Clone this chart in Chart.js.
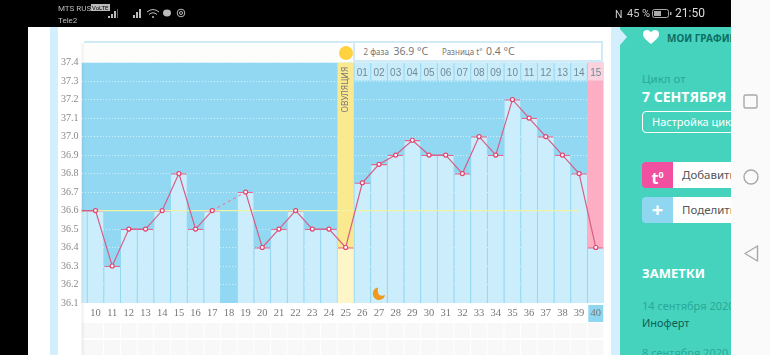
<!DOCTYPE html>
<html>
<head>
<meta charset="utf-8">
<title>График температуры</title>
<script src="https://cdn.jsdelivr.net/npm/chart.js@4/dist/chart.umd.min.js"></script>
<style>
    html, body { margin: 0; padding: 0; background: #000; }
    body { position: relative; width: 770px; height: 355px; overflow: hidden; font-family: "Noto Sans", sans-serif; }
    div, span, svg { position: absolute; white-space: nowrap; }
    #page { left: 28px; top: 27px; width: 703px; height: 328px; background: #fff; overflow: hidden; }
    #nav { left: 731px; top: 0; width: 39px; height: 355px; background: #fafafa; }
    #strip-left { left: 50px; top: 27px; width: 8px; height: 328px; background: #d2effb; }
    #strip-right { left: 611px; top: 27px; width: 9px; height: 328px; background: #d2effb; }
    #side { left: 620px; top: 27px; width: 111px; height: 328px; background: #45d3bd; overflow: hidden; }
    #side div { left: 22px; }
    #head-left { left: 84px; top: 41px; width: 253px; height: 19px; background: #fdfefc; border-top: 2px solid #d0ebf5; }
    #head-ovu { left: 337px; top: 41px; width: 16px; height: 19px; background: #fff; border-top: 2px solid #d0ebf5; }
    #head-right { left: 353px; top: 41px; width: 246px; height: 17px; background: #fff; border: 2px solid #d0ebf5; color: #777; }
    #sun { left: 338.5px; top: 46px; width: 14px; height: 14px; border-radius: 7px; background: #ffd23f; }
    #unit { left: 65px; top: 37px; font-size: 10.5px; color: #888; }
    canvas { position: absolute; left: 0; top: 0; }
    .status { color: #bbb; font-size: 8px; font-family: Roboto, sans-serif; }
    .btn-icon { left: 22px; width: 31px; height: 26px; border-radius: 4px 0 0 4px; color: #fff; text-align: center; font-weight: 700; }
    .btn-text { width: 90px; height: 26px; line-height: 25px; background: #fff; color: #555; font-size: 11.5px; padding-left: 9px; }
</style>
</head>
<body>
<div id="page"></div>
<div id="strip-left"></div>
<div id="strip-right"></div>
<div id="head-left"></div>
<div id="head-ovu"></div>
<div id="head-right">
    <span style="left:8.5px;top:3px;font-size:8px">2 фаза</span>
    <span style="left:38.5px;top:1px;font-size:10.5px">36.9 °C</span>
    <span style="left:87px;top:3px;font-size:8px">Разница t°</span>
    <span style="left:131px;top:1px;font-size:10.5px">0.4 °C</span>
</div>
<div id="sun"></div>
<div id="unit">C°</div>

<canvas id="tempChart" width="770" height="355"></canvas>

<svg style="left:620px;top:29px;z-index:2" width="8" height="17"><path d="M0 0 L7 8 L0 16 Z" fill="#d2effb"/></svg>
<div id="side">
    <svg style="left:22px;top:2px" width="18" height="16" viewBox="0 0 18 16"><path d="M9 15 C3 10 1 8 1 5 C1 2 3 1 5 1 C7 1 8 2 9 3.5 C10 2 11 1 13 1 C15 1 17 2 17 5 C17 8 15 10 9 15Z" fill="#fff"/></svg>
    <div style="left:47px;top:4px;font-size:10px;font-weight:700;color:#0d6f63">МОИ ГРАФИКИ</div>
    <div style="top:44px;font-size:11.5px;color:#2aa898">Цикл от</div>
    <div style="top:60px;font-size:14px;font-weight:700;color:#fff">7 СЕНТЯБРЯ</div>
    <div style="top:84px;width:110px;height:20px;border:1px solid #fff;border-radius:4px;color:#fff;font-size:11px;line-height:19px;text-indent:9px">Настройка цикла</div>
    <div class="btn-icon" style="top:135px;background:#f0509f;font-size:16px;line-height:25px">t<sup style="font-size:9px">0</sup></div>
    <div class="btn-text" style="left:53px;top:135px">Добавить</div>
    <div class="btn-icon" style="top:170px;background:#8fd6f0;font-size:20px;line-height:25px">+</div>
    <div class="btn-text" style="left:53px;top:170px">Поделиться</div>
    <div style="top:237px;font-size:13px;font-weight:700;color:#fff">ЗАМЕТКИ</div>
    <div style="top:271px;font-size:11px;color:#2aa898">14 сентября 2020</div>
    <div style="top:288px;font-size:11px;color:#0d5f55">Иноферт</div>
    <div style="top:318px;font-size:11px;color:#2aa898">8 сентября 2020</div>
</div>

<div class="status" style="left:58px;top:4px">MTS RUS</div>
<div class="status" style="left:58px;top:16px">Tele2</div>
<div class="status" style="left:91px;top:4px;background:#bbb;color:#000;font-size:6px;line-height:7px;padding:0 1px">VoLTE</div>
<svg style="left:107px;top:8px" width="82" height="12" viewBox="0 0 82 12" fill="#bbb">
    <rect x="1" y="8" width="2" height="2"/><rect x="4" y="6" width="2" height="4"/><rect x="7" y="3" width="2" height="7"/><rect x="10" y="1" width="1" height="9" fill="#666"/>
    <rect x="26" y="7" width="2" height="3"/><rect x="29" y="4" width="2" height="6"/><rect x="32" y="1" width="2" height="9"/>
    <path d="M40 4 Q46 -1 52 4 M42 6.5 Q46 3 50 6.5" fill="none" stroke="#bbb"/><circle cx="46" cy="9" r="1"/>
    <ellipse cx="60" cy="5" rx="4" ry="3.4"/>
    <circle cx="74" cy="5" r="3.8" fill="none" stroke="#bbb"/><circle cx="74" cy="5" r="1.5" fill="none" stroke="#bbb"/>
</svg>
<div class="status" style="left:615px;top:8px;font-size:10.5px;color:#ccc">N</div>
<div class="status" style="left:627px;top:7px;font-size:11px;color:#ccc">45 %</div>
<svg style="left:652px;top:9px" width="20" height="10" viewBox="0 0 20 10"><rect x="0.5" y="0.5" width="16" height="8" rx="2" fill="none" stroke="#aaa"/><rect x="2" y="2" width="7" height="5" fill="#aaa"/><rect x="18" y="3" width="1.5" height="3" fill="#aaa"/></svg>
<div class="status" style="left:675px;top:6px;font-size:12px;color:#ddd">21:50</div>

<div id="nav"></div>
<svg style="left:731px;top:0" width="39" height="355" fill="none" stroke="#a8a8a8" stroke-width="1.4">
    <rect x="13" y="95" width="13" height="13" rx="1.5"/>
    <circle cx="20" cy="177" r="7"/>
    <path d="M26.5 246 L14 253.5 L26.5 261 Z" stroke-linejoin="round"/>
</svg>

<script>
// days of the cycle, the first one is scrolled half under the axis
const days = [9, 10, 11, 12, 13, 14, 15, 16, 17, 18, 19, 20, 21, 22, 23, 24, 25, 26, 27, 28, 29, 30, 31, 32, 33, 34, 35, 36, 37, 38, 39, 40];
const temps = [36.6, 36.6, 36.3, 36.5, 36.5, 36.6, 36.8, 36.5, 36.6, null, 36.7, 36.4, 36.5, 36.6, 36.5, 36.5, 36.4, 36.75, 36.85, 36.9, 36.98, 36.9, 36.9, 36.8, 37.0, 36.9, 37.2, 37.1, 37.0, 36.9, 36.8, 36.4];
const coverLine = [36.6, 36.6, 36.6, 36.6, 36.6, 36.6, 36.6, 36.6, 36.6, 36.6, 36.6, 36.6, 36.6, 36.6, 36.6, 36.6, 36.6, 36.6, 36.6, 36.6, 36.6, 36.6, 36.6, 36.6, 36.6, 36.6, 36.6, 36.6, 36.6, 36.6, 36.6, null];
const columns = [null, null, null, null, null, null, null, null, null, null, null, null, null, null, null, null, 37.4, null, null, null, null, null, null, null, null, null, null, null, null, null, null, 37.4];
const phaseLabels = ["01", "02", "03", "04", "05", "06", "07", "08", "09", "10", "11", "12", "13", "14", "15"];
const tempTicks = [36.1, 36.2, 36.3, 36.4, 36.5, 36.6, 36.7, 36.8, 36.9, 37.0, 37.1, 37.2, 37.3, 37.4];

const ovulationDay = 25;
const moonDay = 27;
const lastDay = 40;
const phaseStart = 26;

// panels the library has no option for, all placed through the chart scales
const cyclePanels = {
    id: "cyclePanels",
    beforeDraw(chart) {
        const { ctx, chartArea: area, scales: { x } } = chart;
        ctx.save();
        ctx.fillStyle = "#93d8f3";
        ctx.fillRect(area.left, area.top, area.right - area.left, area.bottom - area.top);

        // empty note rows under the axis
        ctx.fillStyle = "#f8f8f8";
        days.forEach(day => {
            const left = x.getPixelForValue(day) - 8;
            ctx.fillRect(Math.max(left, area.left), area.bottom + 20, 15.7, 15);
            ctx.fillRect(Math.max(left, area.left), area.bottom + 37, 15.7, 15);
        });

        ctx.fillStyle = "#8fd6f0";
        ctx.fillRect(x.getPixelForValue(lastDay) - 7.5, area.bottom + 2, 15, 17);
        ctx.restore();
    },
    afterDatasetsDraw(chart) {
        const { ctx, chartArea: area, scales: { x, y } } = chart;
        ctx.save();

        // second phase day numbers
        ctx.textAlign = "center";
        ctx.textBaseline = "middle";
        ctx.font = '10px "Liberation Sans Narrow", sans-serif';
        phaseLabels.forEach((label, i) => {
            const cx = x.getPixelForValue(phaseStart + i);
            ctx.fillStyle = i === phaseLabels.length - 1 ? "#fbd3df" : "#c9ecfb";
            ctx.fillRect(cx - 7.8, area.top, 15.6, 18);
            ctx.fillStyle = "#6f8a96";
            ctx.fillText(label, cx, area.top + 10.5);
        });

        // ovulation column caption
        ctx.save();
        ctx.translate(x.getPixelForValue(ovulationDay), area.top + 27);
        ctx.rotate(-Math.PI / 2);
        ctx.fillStyle = "#777";
        ctx.font = '8.5px "Noto Sans", sans-serif';
        ctx.fillText("ОВУЛЯЦИЯ", 0, 0);
        ctx.restore();

        // moon mark
        const mx = x.getPixelForValue(moonDay);
        const my = y.getPixelForValue(36.15);
        ctx.fillStyle = "#ee9a1c";
        ctx.beginPath();
        ctx.arc(mx, my, 6.3, Math.PI * 0.1, Math.PI * 1.45);
        ctx.quadraticCurveTo(mx - 2.5, my + 4, mx + 6, my + 1.5);
        ctx.fill();

        // fixed axis panel, the scrolled chart goes under it
        ctx.fillStyle = "#fff";
        ctx.fillRect(58, 27, area.left - 58, 328);
        const shade = ctx.createLinearGradient(area.left, 0, area.left + 4, 0);
        shade.addColorStop(0, "rgba(0,0,0,0.06)");
        shade.addColorStop(1, "rgba(0,0,0,0)");
        ctx.fillStyle = shade;
        ctx.fillRect(area.left, 43, 4, 312);
        ctx.restore();
    }
};

const barColors = days.map(day => day === ovulationDay ? "#fef6c8" : "#cceefc");
const columnColors = days.map(day => day === ovulationDay ? "#fbe98f" : "#fdaec5");

new Chart(document.getElementById("tempChart").getContext("2d"), {
    type: "bar",
    data: {
        labels: days,
        datasets: [
            {
                type: "line",
                data: temps,
                order: 0,
                borderColor: "#d65f85",
                borderWidth: 1.2,
                tension: 0,
                spanGaps: true,
                pointRadius: 2,
                pointBackgroundColor: "#fff",
                pointBorderColor: "#e0446f",
                pointBorderWidth: 1.2,
                segment: {
                    borderDash: ctx => (ctx.p0.skip || ctx.p1.skip ? [3, 3] : undefined),
                    borderColor: ctx => (ctx.p0.skip || ctx.p1.skip ? "#d98aa6" : undefined)
                }
            },
            {
                type: "line",
                data: coverLine,
                order: 1,
                borderColor: "#eef3a6",
                borderWidth: 1.2,
                pointRadius: 0
            },
            {
                data: temps,
                order: 2,
                grouped: false,
                barThickness: 15.7,
                backgroundColor: barColors,
                borderColor: "#e5688f",
                borderWidth: { top: 1.3, left: 0, right: 0, bottom: 0 }
            },
            {
                data: columns,
                order: 3,
                grouped: false,
                barThickness: 15.7,
                backgroundColor: columnColors
            }
        ]
    },
    options: {
        responsive: false,
        animation: false,
        layout: { padding: { top: 62.6, right: 166.7, left: 0, bottom: 0 } },
        plugins: { legend: { display: false }, tooltip: { enabled: false } },
        scales: {
            x: {
                type: "linear",
                offset: false,
                min: 9.16,
                max: 40.45,
                grid: { display: false, offset: false, drawTicks: false },
                border: { display: false },
                afterBuildTicks: scale => {
                    scale.ticks = days.map(value => ({ value }));
                },
                afterFit: scale => {
                    scale.height = 52;
                },
                ticks: {
                    autoSkip: false,
                    maxRotation: 0,
                    padding: 4,
                    color: "#777",
                    font: { family: "Liberation Sans Narrow", size: 10.5 },
                    callback: value => String(value)
                }
            },
            y: {
                min: 36.1,
                max: 37.4,
                grid: {
                    color: "rgba(255,255,255,0.6)",
                    lineWidth: 1,
                    drawTicks: false
                },
                border: { display: false, dash: [1, 2] },
                afterBuildTicks: scale => {
                    scale.ticks = tempTicks.map(value => ({ value }));
                },
                afterFit: scale => {
                    scale.width = 81.5;
                },
                ticks: {
                    z: 1,
                    padding: 3,
                    color: "#888",
                    font: { family: "Liberation Sans Narrow", size: 10 },
                    callback: value => value.toFixed(1)
                }
            }
        }
    },
    plugins: [cyclePanels]
});
</script>
</body>
</html>
